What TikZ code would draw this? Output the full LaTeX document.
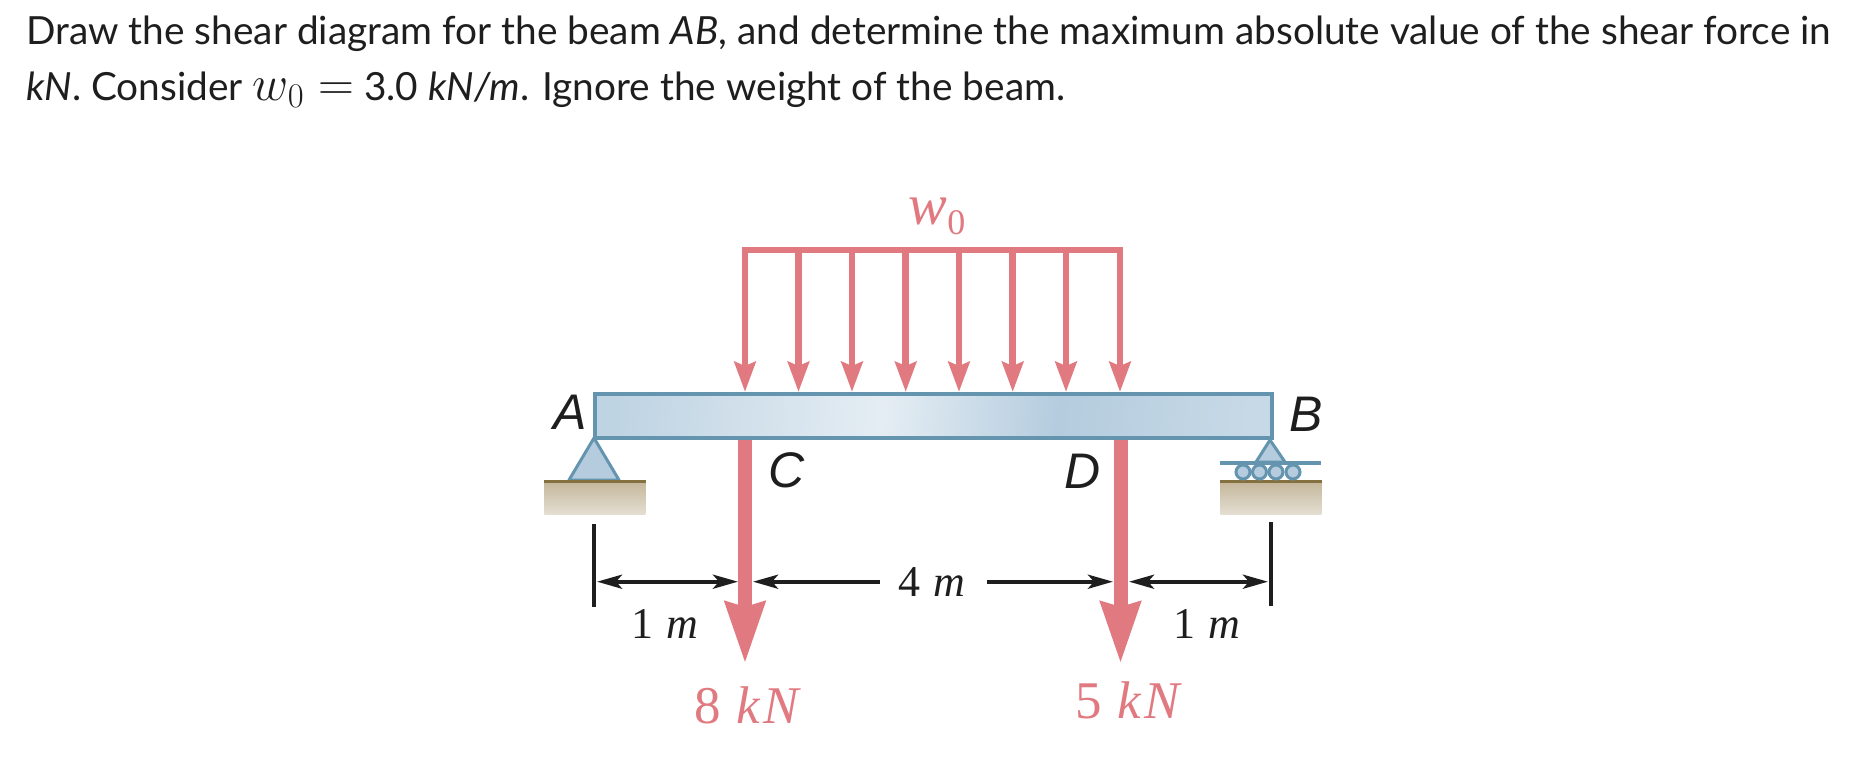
\documentclass[tikz,border=0pt]{standalone}
\usepackage{fontspec}
\setmainfont{Lato}
\newfontfamily\labelserif[LetterSpace=5]{Liberation Serif}
\newfontfamily\labelsans{Liberation Sans}
\usepackage{amsmath}
\usetikzlibrary{arrows.meta,shadings}
\DeclareMathSizes{19.4}{24}{17}{13}
\definecolor{loadred}{HTML}{E07A80}
\definecolor{beamblue}{HTML}{6594AF}
\definecolor{pinblue}{HTML}{B4CCDE}
\definecolor{groundtop}{HTML}{C4B699}
\definecolor{groundlow}{HTML}{E4DFD3}
\definecolor{groundline}{HTML}{85713F}
\definecolor{inkblack}{HTML}{1E1E1E}
\pgfdeclarehorizontalshading{beamshade}{100bp}{
  color(0bp)=(pinblue!85!white);
  color(25bp)=(pinblue!85!white);
  color(46bp)=(pinblue!35!white);
  color(60bp)=(pinblue);
  color(75bp)=(pinblue!75!white);
  color(100bp)=(pinblue!75!white)}
\tikzset{
  prose/.style={anchor=base west,inner sep=0pt,font=\fontsize{19.4pt}{22pt}\selectfont,text=inkblack},
  pointname/.style={anchor=base west,inner sep=0pt,font=\fontsize{25pt}{25pt}\labelsans\itshape,text=inkblack},
  sizetext/.style={anchor=base,inner sep=0pt,font=\fontsize{22pt}{24pt}\labelserif,text=inkblack},
  forcetext/.style={anchor=base,inner sep=0pt,font=\fontsize{26.5pt}{28pt}\labelserif,text=loadred},
  beamnode/.style={draw=beamblue,line width=1.75pt,shading=beamshade,shading angle=-5,inner sep=0pt,minimum width=338.5pt,minimum height=22pt,anchor=north west},
  groundnode/.style={inner sep=0pt,minimum width=50.5pt,minimum height=16.5pt,anchor=north west,top color=groundtop,bottom color=groundlow},
  groundedge/.style={groundline,line width=1.5pt},
  pinstyle/.style={draw=beamblue,fill=pinblue,line width=1.5pt,line join=round},
  rollernode/.style={circle,draw=beamblue,fill=pinblue,line width=1.5pt,inner sep=0pt,minimum size=7pt},
  loadbar/.style={loadred,line width=2.75pt},
  loadarrow/.style={loadred,line width=3.3pt,-{Stealth[length=15pt,width=10.5pt,inset=2pt]}},
  bigarrow/.style={loadred,line width=7pt,-{Stealth[length=30.5pt,width=19pt,inset=2pt]}},
  dimline/.style={inkblack,line width=2pt,{Stealth[length=12.5pt,width=7pt,inset=3pt]}-{Stealth[length=12.5pt,width=7pt,inset=3pt]}},
  dimopen/.style={inkblack,line width=2pt},
  ticklink/.style={inkblack,line width=1.6pt}
}
\begin{document}
\begin{tikzpicture}[x=0.5pt,y=-0.5pt]
\useasboundingbox (0,0) rectangle (1854,760);
\node (lineone) [prose] at (26,44) {Draw the shear diagram for the beam \textit{AB}, and determine the maximum absolute value of the shear force in};
\node (linetwo) [prose] at (26,100) {\textit{kN}. Consider $w_0 =$ 3.0 \textit{kN/m}. Ignore the weight of the beam.};
\node (beam) [beamnode] at (593,392) {};
\node (groundA) [groundnode] at (544,481) {};
\node (groundB) [groundnode] at (1220,481) {};
\coordinate (pinA) at (594,438);
\coordinate (pinAl) at (569,480);
\coordinate (pinAr) at (619,480);
\draw [pinstyle] (pinA) -- (pinAl) -- (pinAr) -- cycle;
\coordinate (pinB) at (1270,440);
\coordinate (pinBl) at (1256,462);
\coordinate (pinBr) at (1285,462);
\draw [pinstyle] (pinB) -- (pinBl) -- (pinBr) -- cycle;
\draw [groundedge] (groundA.north west) -- (groundA.north east);
\draw [groundedge] (groundB.north west) -- (groundB.north east);
\coordinate (plateBl) at (1220,463);
\coordinate (plateBr) at (1321,463);
\draw [beamblue,line width=1.75pt] (plateBl) -- (plateBr);
\node (rollerone) [rollernode] at (1243,472) {};
\node (rollertwo) [rollernode] at (1259.5,472) {};
\node (rollerthree) [rollernode] at (1276,472) {};
\node (rollerfour) [rollernode] at (1293,472) {};
\coordinate (loadone) at (745,250);
\coordinate (loadtwo) at (798.5,250);
\coordinate (loadthree) at (852,250);
\coordinate (loadfour) at (905.7,250);
\coordinate (loadfive) at (959,250);
\coordinate (loadsix) at (1012.7,250);
\coordinate (loadseven) at (1066,250);
\coordinate (loadeight) at (1120,250);
\draw [loadbar] ([xshift=-1.6pt]loadone) -- ([xshift=1.6pt]loadeight);
\draw [loadarrow] (loadone) -- (loadone |- beam.north);
\draw [loadarrow] (loadtwo) -- (loadtwo |- beam.north);
\draw [loadarrow] (loadthree) -- (loadthree |- beam.north);
\draw [loadarrow] (loadfour) -- (loadfour |- beam.north);
\draw [loadarrow] (loadfive) -- (loadfive |- beam.north);
\draw [loadarrow] (loadsix) -- (loadsix |- beam.north);
\draw [loadarrow] (loadseven) -- (loadseven |- beam.north);
\draw [loadarrow] (loadeight) -- (loadeight |- beam.north);
\coordinate (tipC) at (745,664);
\coordinate (tipD) at (1120.5,664);
\draw [bigarrow] (tipC |- beam.south) -- (tipC);
\draw [bigarrow] (tipD |- beam.south) -- (tipD);
\node (loadname) [forcetext,font=\fontsize{29pt}{29pt}\labelserif\itshape] at (937,224) {w\raisebox{-5pt}{\fontsize{18pt}{18pt}\upshape 0}};
\node (nameA) [pointname] at (553,429) {A};
\node (nameB) [pointname] at (1289,431) {B};
\node (nameC) [pointname] at (768,487) {C};
\node (nameD) [pointname] at (1064,488) {D};
\coordinate (tickAtop) at (594,524);
\coordinate (tickAlow) at (594,607);
\coordinate (tickBtop) at (1271,522);
\coordinate (tickBlow) at (1271,606);
\draw [ticklink] (tickAtop) -- (tickAlow);
\draw [ticklink] (tickBtop) -- (tickBlow);
\coordinate (dimAl) at (597,581.7);
\coordinate (dimAr) at (738,581.7);
\coordinate (dimBl) at (1129,581.7);
\coordinate (dimBr) at (1268,581.7);
\coordinate (dimMl) at (753,581.7);
\coordinate (dimMr) at (1113,581.7);
\draw [dimline] (dimAl) -- (dimAr);
\draw [dimline] (dimBl) -- (dimBr);
\node (spanmid) [sizetext] at (933,596) {4 \textit{m}};
\coordinate (gapl) at (880,581.7);
\coordinate (gapr) at (987,581.7);
\draw [dimopen,{Stealth[length=12.5pt,width=7pt,inset=3pt]}-] (dimMl) -- (gapl);
\draw [dimopen,-{Stealth[length=12.5pt,width=7pt,inset=3pt]}] (gapr) -- (dimMr);
\node (spanleft) [sizetext] at (666,638) {1 \textit{m}};
\node (spanright) [sizetext] at (1208,638) {1 \textit{m}};
\node (forceC) [forcetext] at (749,723) {8 \textit{kN}};
\node (forceD) [forcetext] at (1130,718) {5 \textit{kN}};
\end{tikzpicture}
\end{document}
